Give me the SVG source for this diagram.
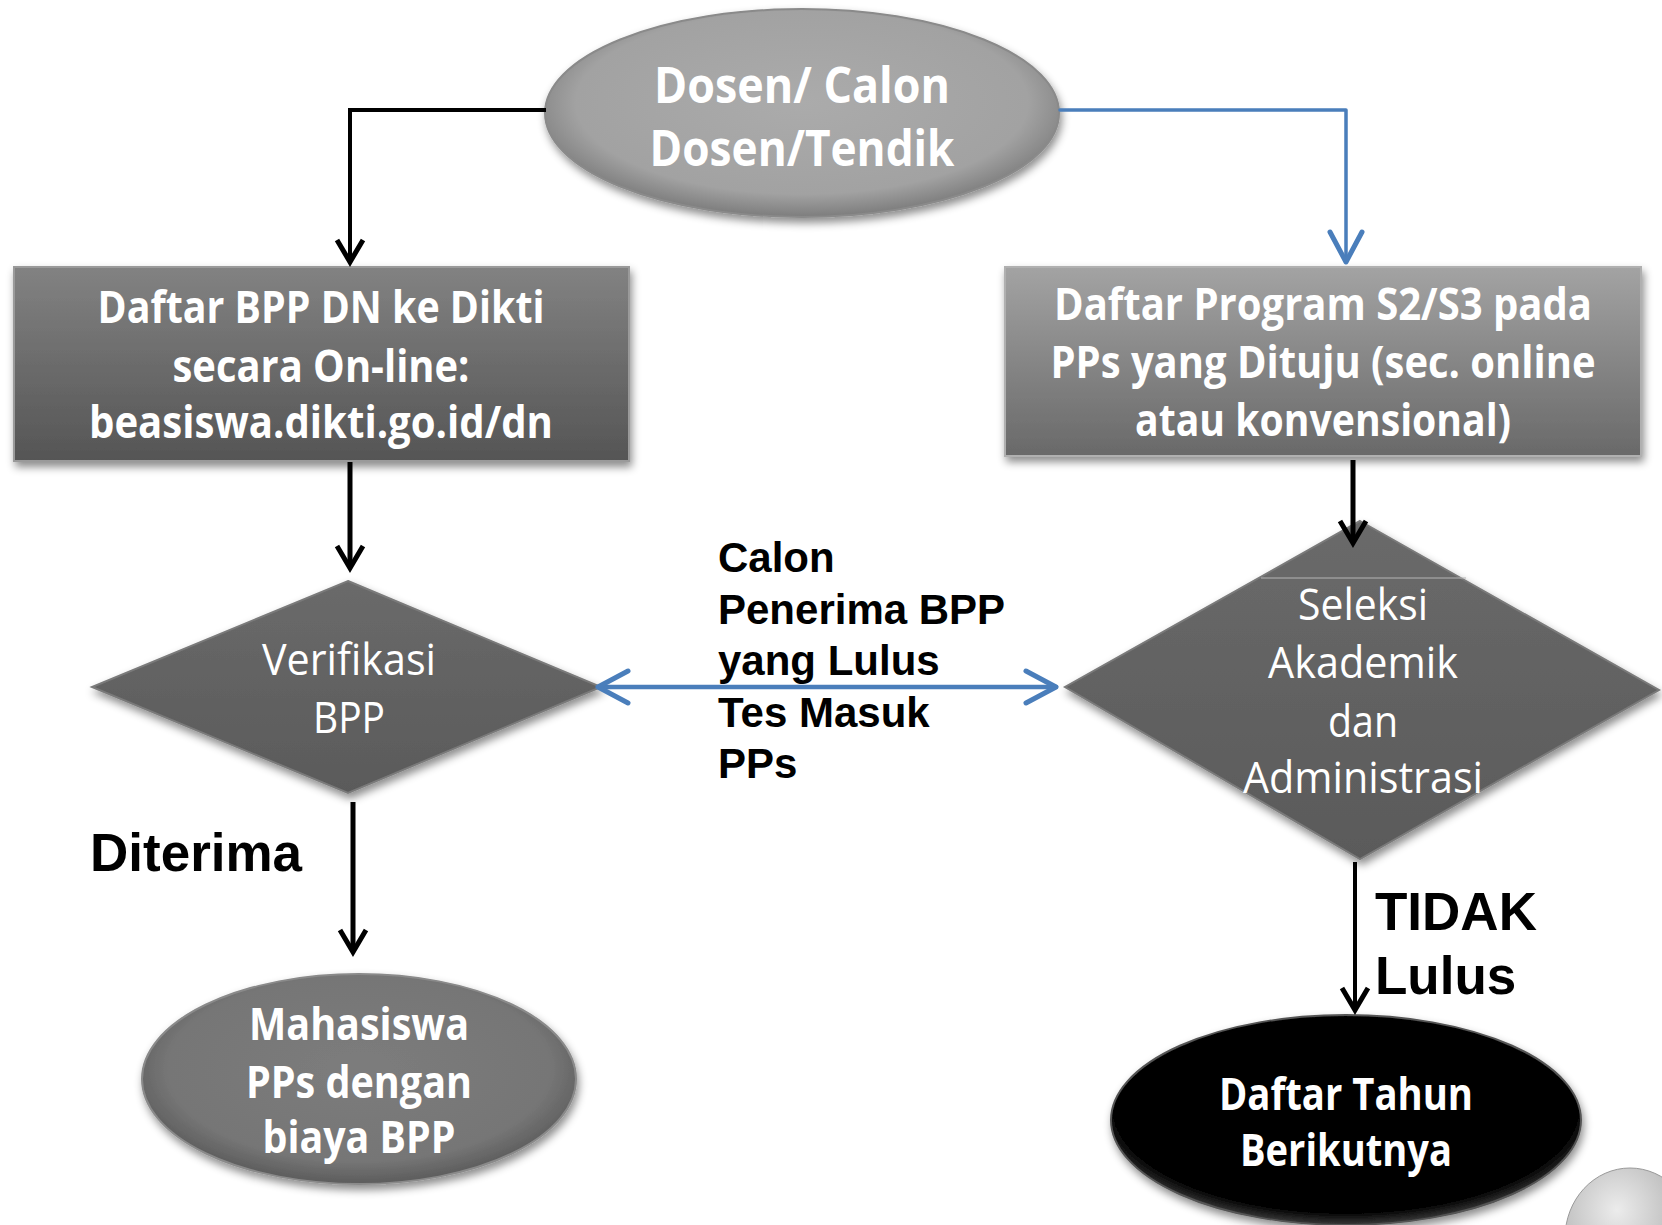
<svg xmlns="http://www.w3.org/2000/svg" width="1662" height="1225" viewBox="0 0 1662 1225">
<style>
.nt{font-family:"Open Sans","Liberation Sans",sans-serif;font-weight:bold;fill:#fff;text-anchor:middle}
.nr{font-family:"Open Sans","Liberation Sans",sans-serif;font-weight:normal;fill:#fff;text-anchor:middle}
.lb{font-family:"Liberation Sans",Arial,sans-serif;font-weight:bold;fill:#000}
.ck{fill:none;stroke:#000;stroke-linecap:butt;stroke-linejoin:miter}
.cb{fill:none;stroke:#4a7ebb;stroke-linecap:round;stroke-linejoin:round}
</style>
<defs>
<filter id="sh" x="-10%" y="-10%" width="125%" height="130%">
<feDropShadow dx="2" dy="5" stdDeviation="4" flood-color="#000" flood-opacity="0.45"/>
</filter>
<radialGradient id="gTop" cx="50%" cy="45%" r="55%">
<stop offset="0" stop-color="#ababab"/><stop offset="0.8" stop-color="#a2a2a2"/><stop offset="1" stop-color="#7d7d7d"/>
</radialGradient>
<linearGradient id="gRectL" x1="0" y1="0" x2="0" y2="1">
<stop offset="0" stop-color="#828282"/><stop offset="1" stop-color="#555"/>
</linearGradient>
<linearGradient id="gRectR" x1="0" y1="0" x2="0" y2="1">
<stop offset="0" stop-color="#a3a3a3"/><stop offset="1" stop-color="#696969"/>
</linearGradient>
<linearGradient id="gDia" x1="0" y1="0" x2="0" y2="1">
<stop offset="0" stop-color="#6a6a6a"/><stop offset="1" stop-color="#5a5a5a"/>
</linearGradient>
<radialGradient id="gMid" cx="50%" cy="45%" r="55%">
<stop offset="0" stop-color="#7c7c7c"/><stop offset="0.8" stop-color="#767676"/><stop offset="1" stop-color="#5c5c5c"/>
</radialGradient>
<radialGradient id="gBlk" cx="50%" cy="45%" r="55%">
<stop offset="0" stop-color="#000"/><stop offset="0.9" stop-color="#050505"/><stop offset="1" stop-color="#3a3a3a"/>
</radialGradient>
<radialGradient id="gSph" cx="40%" cy="30%" r="70%">
<stop offset="0" stop-color="#ececec"/><stop offset="1" stop-color="#a5a5a5"/>
</radialGradient>
<marker id="ak" markerUnits="userSpaceOnUse" orient="auto" refX="0" refY="0" viewBox="-30 -20 40 40" markerWidth="40" markerHeight="40" overflow="visible">
<path d="M -22 -13 L 0 0 L -22 13" fill="none" stroke="#000" stroke-width="5" stroke-linejoin="miter"/>
</marker>
<marker id="ab" markerUnits="userSpaceOnUse" orient="auto-start-reverse" refX="0" refY="0" viewBox="-40 -20 50 40" markerWidth="50" markerHeight="40" overflow="visible">
<path d="M -30 -16 L 0 0 L -30 16" fill="none" stroke="#4a7ebb" stroke-width="5" stroke-linecap="round" stroke-linejoin="round"/>
</marker>
</defs>
<rect width="1662" height="1225" fill="#fff"/>

<g id="n-dosen">
<ellipse cx="802" cy="113" rx="257" ry="104" fill="url(#gTop)" stroke="#8a8a8a" stroke-width="2" filter="url(#sh)"/>
<text class="nt" x="802" y="103" font-size="50" textLength="296" lengthAdjust="spacingAndGlyphs">Dosen/ Calon</text>
<text class="nt" x="802" y="166" font-size="50" textLength="305" lengthAdjust="spacingAndGlyphs">Dosen/Tendik</text>
</g>

<g id="n-daftar-bpp">
<rect x="14" y="267" width="615" height="194" fill="url(#gRectL)" stroke="#9a9a9a" stroke-width="2" filter="url(#sh)"/>
<text class="nt" x="321" y="323" font-size="45" textLength="447" lengthAdjust="spacingAndGlyphs">Daftar BPP DN ke Dikti</text>
<text class="nt" x="321" y="382" font-size="45" textLength="297" lengthAdjust="spacingAndGlyphs">secara On-line:</text>
<text class="nt" x="321" y="438" font-size="45" textLength="464" lengthAdjust="spacingAndGlyphs">beasiswa.dikti.go.id/dn</text>
</g>

<g id="n-daftar-program">
<rect x="1005" y="267" width="636" height="189" fill="url(#gRectR)" stroke="#b0b0b0" stroke-width="2" filter="url(#sh)"/>
<text class="nt" x="1323" y="320" font-size="45" textLength="538" lengthAdjust="spacingAndGlyphs">Daftar Program S2/S3 pada</text>
<text class="nt" x="1323" y="378" font-size="45" textLength="545" lengthAdjust="spacingAndGlyphs">PPs yang Dituju (sec. online</text>
<text class="nt" x="1323" y="436" font-size="45" textLength="376" lengthAdjust="spacingAndGlyphs">atau konvensional)</text>
</g>

<g id="n-verifikasi">
<path d="M 348 581 L 601 687 L 348 793 L 92 687 Z" fill="url(#gDia)" stroke="#7a7a7a" stroke-width="2" filter="url(#sh)"/>
<text class="nr" x="349" y="675" font-size="44" textLength="174" lengthAdjust="spacingAndGlyphs">Verifikasi</text>
<text class="nr" x="349" y="733" font-size="44" textLength="72" lengthAdjust="spacingAndGlyphs">BPP</text>
</g>

<g id="n-seleksi">
<path d="M 1360 521 L 1659 690 L 1360 859 L 1065 687 Z" fill="url(#gDia)" stroke="#7a7a7a" stroke-width="2" filter="url(#sh)"/>
<line x1="1261" y1="578" x2="1466" y2="578" stroke="#b5b5b5" stroke-width="1"/>
<text class="nr" x="1363" y="620" font-size="44" textLength="130" lengthAdjust="spacingAndGlyphs">Seleksi</text>
<text class="nr" x="1363" y="678" font-size="44" textLength="190" lengthAdjust="spacingAndGlyphs">Akademik</text>
<text class="nr" x="1363" y="737" font-size="44" textLength="70" lengthAdjust="spacingAndGlyphs">dan</text>
<text class="nr" x="1363" y="793" font-size="44" textLength="240" lengthAdjust="spacingAndGlyphs">Administrasi</text>
</g>

<g id="n-mahasiswa">
<ellipse cx="359" cy="1079" rx="217" ry="105" fill="url(#gMid)" stroke="#8a8a8a" stroke-width="2" filter="url(#sh)"/>
<text class="nt" x="359" y="1040" font-size="44" textLength="220" lengthAdjust="spacingAndGlyphs">Mahasiswa</text>
<text class="nt" x="359" y="1098" font-size="44" textLength="226" lengthAdjust="spacingAndGlyphs">PPs dengan</text>
<text class="nt" x="359" y="1153" font-size="44" textLength="193" lengthAdjust="spacingAndGlyphs">biaya BPP</text>
</g>

<g id="n-daftar-tahun">
<ellipse cx="1346" cy="1120" rx="235" ry="105" fill="url(#gBlk)" stroke="#555" stroke-width="2" filter="url(#sh)"/>
<text class="nt" x="1346" y="1110" font-size="45" textLength="254" lengthAdjust="spacingAndGlyphs">Daftar Tahun</text>
<text class="nt" x="1346" y="1166" font-size="45" textLength="212" lengthAdjust="spacingAndGlyphs">Berikutnya</text>
</g>

<g id="sphere">
<ellipse cx="1630" cy="1238" rx="65" ry="70" fill="url(#gSph)" stroke="#9a9a9a" stroke-width="1"/>
</g>

<g id="connectors">
<path class="ck" d="M 546 110 H 350 V 262" stroke-width="4" marker-end="url(#ak)"/>
<path class="cb" d="M 1060 110 H 1346 V 262" stroke-width="3.5" marker-end="url(#ab)"/>
<path class="ck" d="M 350 462 V 568" stroke-width="5" marker-end="url(#ak)"/>
<path class="ck" d="M 1353 460 V 543" stroke-width="5" marker-end="url(#ak)"/>
<path class="ck" d="M 353 802 V 952" stroke-width="5" marker-end="url(#ak)"/>
<path class="ck" d="M 1355 862 V 1010" stroke-width="4" marker-end="url(#ak)"/>
<path class="cb" d="M 598 687 H 1056" stroke-width="4.5" marker-start="url(#ab)" marker-end="url(#ab)"/>
</g>

<g id="labels">
<text class="lb" font-size="42" x="718" y="572">Calon</text>
<text class="lb" font-size="42" x="718" y="624">Penerima BPP</text>
<text class="lb" font-size="42" x="718" y="675">yang Lulus</text>
<text class="lb" font-size="42" x="718" y="727">Tes Masuk</text>
<text class="lb" font-size="42" x="718" y="778">PPs</text>
<text class="lb" font-size="53" x="90" y="871">Diterima</text>
<text class="lb" font-size="53" x="1375" y="930">TIDAK</text>
<text class="lb" font-size="53" x="1375" y="994">Lulus</text>
</g>
</svg>
